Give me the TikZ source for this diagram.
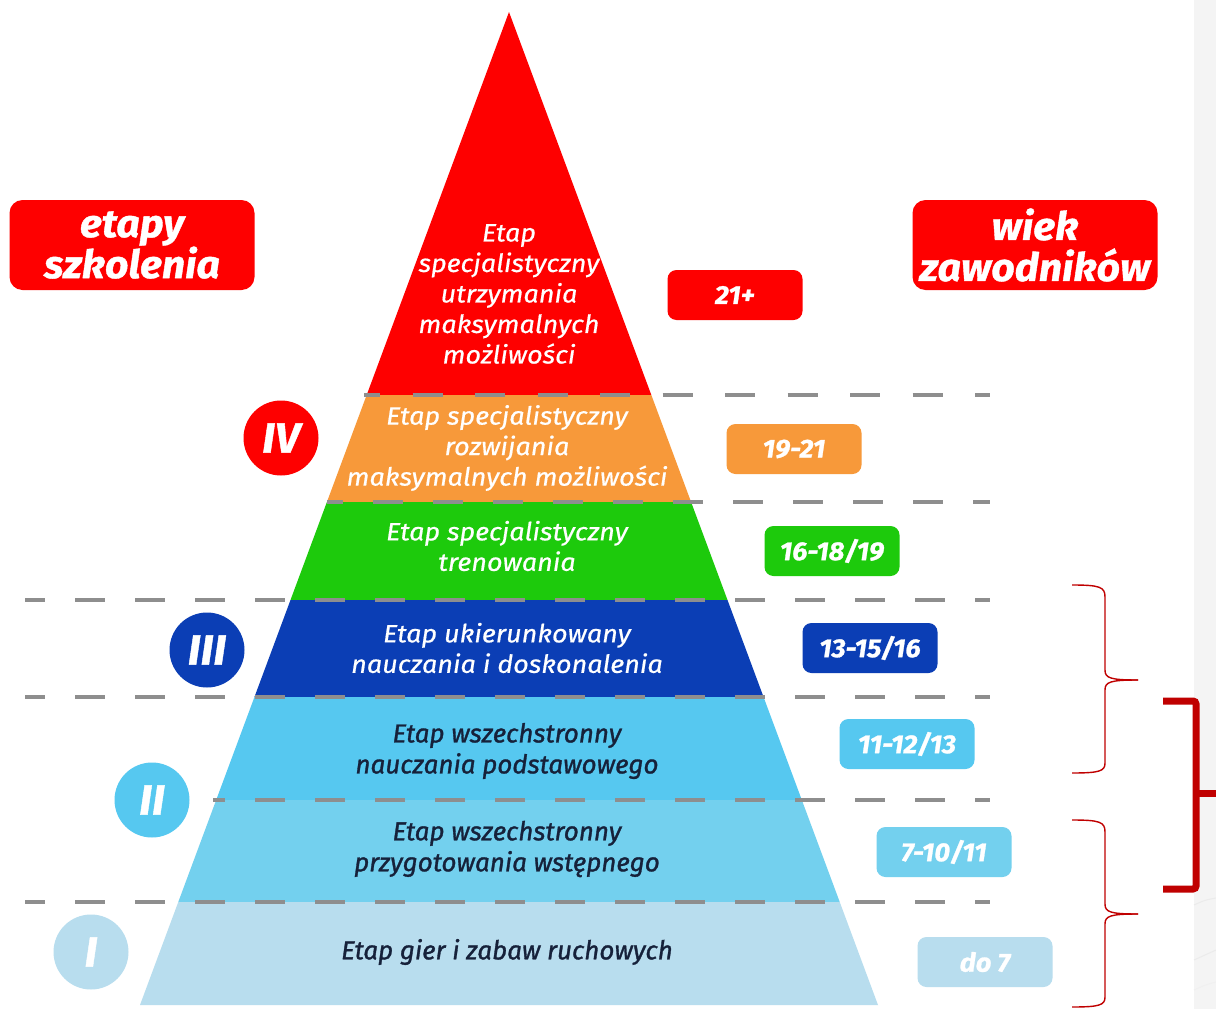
\documentclass[tikz,border=0pt]{standalone}
\usepackage{fontspec}
\setmainfont{Fira Sans}
\newfontfamily\bandfont[FakeStretch=1.08, FakeBold=0.6]{Fira Sans}
\newfontfamily\condfont[FakeStretch=1.0, FakeBold=1.2]{Fira Sans}
\newfontfamily\heavyfont[FakeStretch=1.05, FakeBold=1.0]{Fira Sans}
\definecolor{pred}{HTML}{FE0000}
\definecolor{porange}{HTML}{F7993A}
\definecolor{pgreen}{HTML}{1DCA0C}
\definecolor{pdblue}{HTML}{0B3EB5}
\definecolor{plb1}{HTML}{56C8F0}
\definecolor{plb2}{HTML}{73D0EE}
\definecolor{plb3}{HTML}{B8DDEE}
\definecolor{tdark}{HTML}{16213A}
\definecolor{dashgray}{HTML}{8E8E8E}
\definecolor{bred}{HTML}{C00000}
\definecolor{stripgray}{HTML}{F4F4F4}
\begin{document}
\begin{tikzpicture}[x=1pt,y=-1pt,
  agebox/.style={rounded corners=9pt, minimum width=135pt, minimum height=50pt, inner sep=0pt, text=white, font=\heavyfont\fontsize{26}{26}\selectfont\bfseries\itshape},
  titlebox/.style={fill=pred, rounded corners=13pt, minimum width=245pt, minimum height=90pt, inner sep=0pt, text=white, align=center, font=\heavyfont\fontsize{39}{41}\selectfont\bfseries\itshape},
  numcirc/.style={circle, minimum size=75pt, inner sep=0pt, text=white, font=\heavyfont\fontsize{42}{42}\selectfont\bfseries\itshape},
  bandtxt/.style={align=center, text=white, inner sep=0pt, font=\bandfont\fontsize{25}{30.5}\selectfont\itshape},
  darktxt/.style={align=center, text=tdark, inner sep=0pt, font=\condfont\fontsize{26}{31}\selectfont\itshape},
  dashrow/.style={draw=dashgray, line width=4.5pt, dash pattern=on 30pt off 30pt},
  thinbrace/.style={draw=bred, line width=1.4pt},
  bigbrace/.style={draw=bred, line width=7pt, rounded corners=3pt}
]
\useasboundingbox (0,0) rectangle (1216,1009);
\fill[white] (0,0) rectangle (1216,1009);
% right gray strip
\fill[stripgray] (1194,0) rectangle (1216,1009);
\draw[black!8, line width=1pt] (1194,905) .. controls (1205,900) .. (1216,898);
\draw[black!8, line width=1pt] (1194,960) .. controls (1205,955) .. (1216,950);
\draw[black!6, line width=1pt] (1194,990) .. controls (1205,985) .. (1216,982);

% pyramid
\begin{scope}
\clip (509,12) -- (878,1005) -- (140,1005) -- cycle;
\fill[pred] (0,0) rectangle (1216,395);
\fill[porange] (0,395) rectangle (1216,502);
\fill[pgreen] (0,502) rectangle (1216,600);
\fill[pdblue] (0,600) rectangle (1216,697);
\fill[plb1] (0,697) rectangle (1216,800);
\fill[plb2] (0,800) rectangle (1216,902);
\fill[plb3] (0,902) rectangle (1216,1009);
\end{scope}

% dashed separators
\draw[draw=dashgray, line width=4.5pt, dash pattern=on 30pt off 32.5pt, dash phase=14pt] (364,395) -- (990,395);
\draw[dashrow, dash phase=14pt] (327,502) -- (990,502);
\draw[dashrow, dash phase=10pt] (25,600) -- (990,600);
\draw[dashrow, dash phase=10pt] (25,697) -- (990,697);
\draw[dashrow, dash phase=18pt] (213,800) -- (990,800);
\draw[dashrow, dash phase=10pt] (25,902) -- (990,902);

% band texts
\node[bandtxt] (t1) at (509,294) {Etap\\specjalistyczny\\utrzymania\\maksymalnych\\możliwości};
\node[bandtxt] (t2) at (507,448) {Etap specjalistyczny\\rozwijania\\maksymalnych możliwości};
\node[bandtxt] (t3) at (507,546) {Etap specjalistyczny\\trenowania};
\node[bandtxt] (t4) at (507,648) {Etap ukierunkowany\\nauczania i doskonalenia};
\node[darktxt] (t5) at (507,751) {Etap wszechstronny\\nauczania podstawowego};
\node[darktxt] (t6) at (507,849) {Etap wszechstronny\\przygotowania wstępnego};
\node[darktxt] (t7) at (507,952) {Etap gier i zabaw ruchowych};

% title boxes
\node[titlebox] (etapy) at (132,245) {etapy\\szkolenia};
\node[titlebox] (wiek) at (1035,245) {wiek\\zawodników};

% age boxes
\node[agebox, fill=pred] (a1) at (735,295) {21+};
\node[agebox, fill=porange] (a2) at (794,449) {19-21};
\node[agebox, fill=pgreen] (a3) at (832,551) {16-18/19};
\node[agebox, fill=pdblue] (a4) at (870,648) {13-15/16};
\node[agebox, fill=plb1] (a5) at (907,744) {11-12/13};
\node[agebox, fill=plb2] (a6) at (944,852) {7-10/11};
\node[agebox, fill=plb3] (a7) at (985,962) {do 7};

% roman circles
\node[numcirc, fill=pred] (c4) at (281,438) {IV};
\node[numcirc, fill=pdblue] (c3) at (207,650) {III};
\node[numcirc, fill=plb1] (c2) at (152,800) {II};
\node[numcirc, fill=plb3] (c1) at (91,952) {I};

% thin braces
\coordinate (b1top) at (1072,585);
\coordinate (b1tip) at (1138,680);
\coordinate (b1bot) at (1072,773);
\draw[thinbrace] (b1top) .. controls (1100,585) and (1105,587) .. (1105,597) -- (1105,670) .. controls (1105,678) and (1110,680) .. (b1tip);
\draw[thinbrace] (b1tip) .. controls (1110,680) and (1105,682) .. (1105,690) -- (1105,763) .. controls (1105,771) and (1100,773) .. (b1bot);
\coordinate (b2top) at (1072,820);
\coordinate (b2tip) at (1138,914);
\coordinate (b2bot) at (1072,1007);
\draw[thinbrace] (b2top) .. controls (1100,820) and (1105,822) .. (1105,832) -- (1105,904) .. controls (1105,912) and (1110,914) .. (b2tip);
\draw[thinbrace] (b2tip) .. controls (1110,914) and (1105,916) .. (1105,924) -- (1105,997) .. controls (1105,1005) and (1100,1007) .. (b2bot);

% big bracket
\coordinate (bbtop) at (1163,701);
\coordinate (bbbot) at (1163,889);
\coordinate (bbtip) at (1216,793);
\draw[bigbrace] (bbtop) -- (1196,701) -- (1196,889) -- (bbbot);
\draw[draw=bred, line width=7pt] (1196,793) -- (bbtip);
\end{tikzpicture}
\end{document}
